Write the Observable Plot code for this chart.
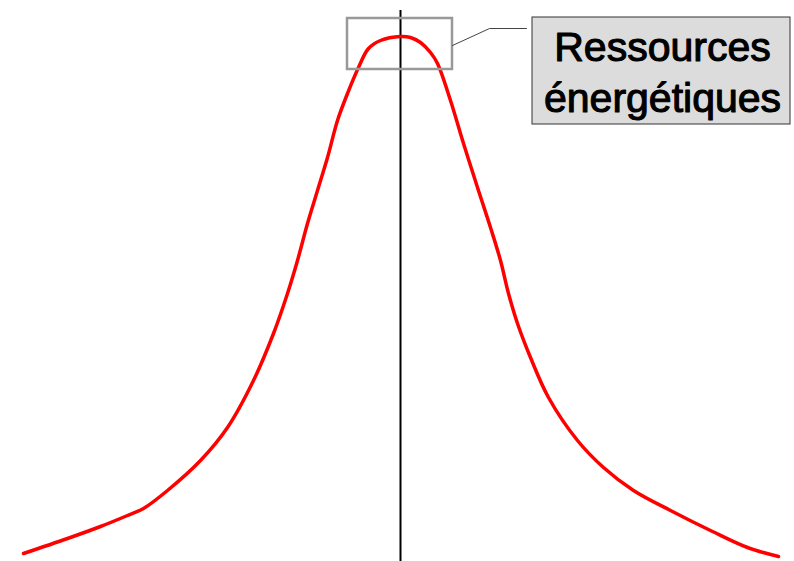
<!DOCTYPE html>
<html>
<head>
<meta charset="utf-8">
<script src="https://cdn.jsdelivr.net/npm/d3@7"></script>
<script src="https://cdn.jsdelivr.net/npm/@observablehq/plot@0.6"></script>
<style>
  html, body { margin: 0; padding: 0; background: #fff; }
  #chart svg { display: block; }
</style>
</head>
<body>
<div id="chart"></div>
<script>
// Curve (x position, height above the bottom edge)
const curveX = [23, 67, 100, 127, 143, 167, 200, 227, 253, 273, 287, 297, 307, 317, 327, 337, 347, 358, 368, 380, 400, 410, 420, 430, 437, 450, 463, 477, 490, 500, 508, 517, 530, 548, 577, 603, 633, 670, 712, 747, 778];
const curveY = [8, 23, 35, 46, 53, 71, 101, 134, 181, 228, 268, 301, 338, 371, 404, 441, 468, 494, 513, 521, 525, 524, 519, 509, 498, 461, 418, 374, 334, 301, 268, 238, 204, 164, 121, 94, 71, 51, 30, 14, 5];

// Reference vertical line
const centerX = [400];
const centerTop = [551];

// Highlight box around the peak
const boxX = [347, 452];
const boxY = [492, 543];

// Leader line
const leaderX = [452, 489, 526];
const leaderY = [516, 533, 533];

// Label box
const labelBoxX = [532, 790];
const labelBoxY = [437, 544];
const labelLines = ["Ressources", "énergétiques"];
const labelPos = [662, 491];

const curve = curveX.map((x, i) => ({x, y: curveY[i]}));
const leader = leaderX.map((x, i) => ({x, y: leaderY[i]}));

const chart = Plot.plot({
  width: 794,
  height: 561,
  margin: 0,
  x: {domain: [0, 794], axis: null},
  y: {domain: [0, 561], axis: null},
  style: {background: "#fff"},
  marks: [
    Plot.ruleX(centerX, {y1: 0, y2: centerTop[0], stroke: "#000", strokeWidth: 2}),
    Plot.line(curve, {x: "x", y: "y", stroke: "#ff0000", strokeWidth: 3.5, curve: "catmull-rom"}),
    Plot.rect([{x1: boxX[0], x2: boxX[1], y1: boxY[0], y2: boxY[1]}], {x1: "x1", x2: "x2", y1: "y1", y2: "y2", fill: "none", stroke: "#999", strokeWidth: 2.5}),
    Plot.line(leader, {x: "x", y: "y", stroke: "#444", strokeWidth: 1}),
    Plot.rect([{x1: labelBoxX[0], x2: labelBoxX[1], y1: labelBoxY[0], y2: labelBoxY[1]}], {x1: "x1", x2: "x2", y1: "y1", y2: "y2", fill: "#dcdcdc", stroke: "#333", strokeWidth: 1}),
    Plot.text([labelLines.join("\n")], {x: labelPos[0], y: labelPos[1], text: d => d, fontSize: 41, fontFamily: "'Liberation Sans', Arial, sans-serif", fill: "#000", stroke: "#000", strokeWidth: 1.1, textAnchor: "middle", lineAnchor: "middle", lineHeight: 1.24})
  ]
});
document.getElementById("chart").appendChild(chart);
</script>
</body>
</html>
